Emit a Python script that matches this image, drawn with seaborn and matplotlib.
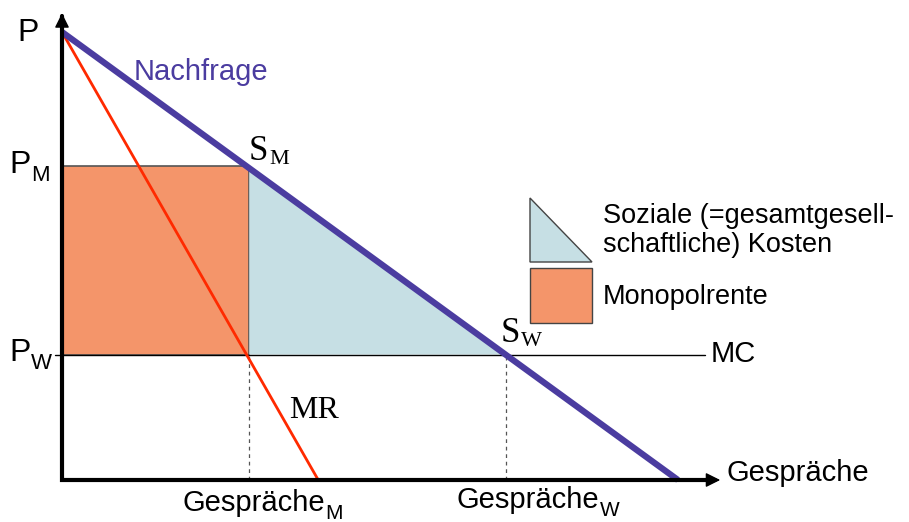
import numpy as np
import pandas as pd
import seaborn as sns
import matplotlib.pyplot as plt
from matplotlib.patches import Polygon, Rectangle

# Werte (Modell-Einheiten)
q_nachfrage = [0, 10]
p_nachfrage = [10, 0]
q_mr = [0, 4.16]
p_mr = [10, 0]
p_m = 7.0
p_w = 2.8
q_m = 3.04
q_w = 7.2

sns.set_style('white')
plt.rcParams['font.family'] = ['Liberation Sans', 'DejaVu Sans']
plt.rcParams['text.color'] = 'black'

blau = '#4B3CA0'
orange = '#F4956A'
hellblau = '#C6DFE4'
rot = '#FF2A00'

fig = plt.figure(figsize=(9.09, 5.22), dpi=100)
ax = fig.add_axes([0, 0, 1, 1])
# Pixel -> Daten: x = (px-62)/61.6, y = (480-py)/44.8
ax.set_xlim(-62 / 61.6, (909 - 62) / 61.6)
ax.set_ylim((480 - 522) / 44.8, 480 / 44.8)
ax.axis('off')


def px(x):
    return (x - 62) / 61.6


def py(y):
    return (480 - y) / 44.8


def mit_index(x, y, basis, index, size, subsize, family=None, dy=-4):
    kw = {} if family is None else {'family': family}
    t = ax.text(x, y, basis, fontsize=size, ha='left', va='center', **kw)
    ax.annotate(index, xy=(1, 0), xycoords=t, xytext=(0.5, dy),
                textcoords='offset points', fontsize=subsize,
                ha='left', va='bottom', **kw)
    return t


# Monopolrente (Rechteck) und soziale Kosten (Dreieck)
ax.add_patch(Rectangle((0, p_w), q_m, p_m - p_w, facecolor=orange,
                       edgecolor='#555555', lw=1.2, zorder=2))
ax.add_patch(Polygon([(q_m, p_m), (q_w, p_w), (q_m, p_w)], closed=True,
                     facecolor=hellblau, edgecolor='none', zorder=2))
ax.plot([q_m, q_w], [p_m - 0.05, p_w], color='k', lw=1, zorder=3)

# MC-Linie und Hilfslinien
ax.plot([-0.11, 10.44], [p_w, p_w], color='k', lw=1, zorder=3)
ax.plot([q_m, q_m], [0, p_w], color='#555555', lw=0.9, ls=(0, (3, 3)), zorder=1)
ax.plot([q_w, q_w], [0, p_w], color='#555555', lw=0.9, ls=(0, (3, 3)), zorder=1)

# Kurven
df_n = pd.DataFrame({'Q': q_nachfrage, 'P': p_nachfrage})
df_mr = pd.DataFrame({'Q': q_mr, 'P': p_mr})
sns.lineplot(data=df_mr, x='Q', y='P', ax=ax, color=rot, lw=2, zorder=4,
             sort=False)
sns.lineplot(data=df_n, x='Q', y='P', ax=ax, color=blau, lw=4.5, zorder=5,
             sort=False, solid_capstyle='butt')

# Achsen mit Pfeilen
ax.plot([0, 0, 10.6], [10.35, 0, 0], color='k', lw=3, zorder=6,
        solid_joinstyle='miter')
ax.annotate('', xy=(0, 10.48), xytext=(0, 10.2),
            arrowprops=dict(arrowstyle='-|>', color='k', lw=1,
                            mutation_scale=22), zorder=7)
ax.annotate('', xy=(10.73, 0), xytext=(10.4, 0),
            arrowprops=dict(arrowstyle='-|>', color='k', lw=1,
                            mutation_scale=22), zorder=7)

# Beschriftungen (Sans)
ax.text(px(17), py(33), 'P', fontsize=23, ha='left', va='center')
mit_index(px(9), py(165), 'P', 'M', 23, 16)
mit_index(px(9), py(353), 'P', 'W', 23, 16)
ax.text(px(727), py(473), 'Gespräche', fontsize=21, ha='left', va='center')
ax.text(px(711), py(354), 'MC', fontsize=21, ha='left', va='center')
ax.text(px(134), py(72), 'Nachfrage', fontsize=21, ha='left', va='center',
        color=blau)
mit_index(px(182), py(503), 'Gespräche', 'M', 21, 15)
mit_index(px(457), py(500), 'Gespräche', 'W', 21, 15)

# Beschriftungen (Serif)
serif = ['Liberation Serif', 'DejaVu Serif']
mit_index(px(249), py(151), 'S', 'M', 25, 16, family=serif, dy=-1)
mit_index(px(501), py(333), 'S', 'W', 25, 16, family=serif, dy=-1)
ax.text(px(289), py(411), 'MR', fontsize=23, family=serif, ha='left',
        va='center')

# Legende
lx0, lx1 = px(530), px(592)
ax.add_patch(Polygon([(lx0, py(198)), (lx1, py(262)), (lx0, py(262))],
                     closed=True, facecolor=hellblau, edgecolor='#444444', lw=1))
ax.add_patch(Rectangle((lx0, py(323)), lx1 - lx0, (323 - 268) / 44.8,
                       facecolor=orange, edgecolor='#444444', lw=1))
ax.text(px(603), py(216), 'Soziale (=gesamtgesell-', fontsize=19.5,
        ha='left', va='center')
ax.text(px(603), py(245), 'schaftliche) Kosten', fontsize=19.5,
        ha='left', va='center')
ax.text(px(603), py(297), 'Monopolrente', fontsize=19.5,
        ha='left', va='center')

fig.savefig('out.png', dpi=100)
